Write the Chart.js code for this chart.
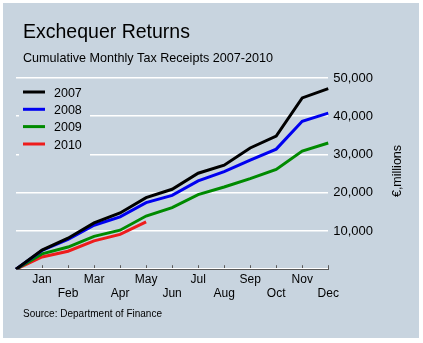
<!DOCTYPE html>
<html>
<head>
<meta charset="utf-8">
<script src="https://cdn.jsdelivr.net/npm/chart.js@4.4.1/dist/chart.umd.min.js"></script>
<style>
  html, body { margin: 0; padding: 0; background: #fff; }
  #wrap { position: absolute; left: 3px; top: 3px; width: 416px; height: 335px; background: #c8d4df; }
</style>
</head>
<body>
<div id="wrap"><canvas id="taxChart" width="416" height="335"></canvas></div>
<script>
// month labels, first slot is the zero start point
var months = ['', 'Jan', 'Feb', 'Mar', 'Apr', 'May', 'Jun', 'Jul', 'Aug', 'Sep', 'Oct', 'Nov', 'Dec'];
var years = ['2007', '2008', '2009', '2010'];
var receipts2007 = [0, 5000, 8100, 12100, 14700, 18700, 20900, 25100, 27200, 31700, 34800, 44800, 47200];
var receipts2008 = [0, 4900, 7800, 11500, 13700, 17400, 19300, 23100, 25500, 28500, 31400, 38700, 40800];
var receipts2009 = [0, 4000, 5800, 8600, 10200, 13900, 16100, 19500, 21500, 23700, 26100, 30900, 33000];
var receipts2010 = [0, 3200, 4700, 7400, 9100, 12400, null, null, null, null, null, null, null];
var yTicks = [0, 10000, 20000, 30000, 40000, 50000];

var bg = '#c8d4df';
var font = "Arial, 'Liberation Sans', sans-serif";

// titles, source, legend box and the rotated axis title
var extras = {
  id: 'extras',
  beforeDatasetsDraw: function(chart) {
    var c = chart.ctx;
    c.save();
    c.fillStyle = bg;
    c.fillRect(16, 80, 71, 78);
    var ys = [89, 106.3, 123.6, 141];
    chart.data.datasets.forEach(function(ds, i) {
      c.strokeStyle = ds.borderColor;
      c.lineWidth = 3;
      c.beginPath();
      c.moveTo(20, ys[i]);
      c.lineTo(42, ys[i]);
      c.stroke();
      c.fillStyle = '#000';
      c.font = '12.5px ' + font;
      c.textBaseline = 'alphabetic';
      c.fillText(ds.label, 51, ys[i] + 4.5);
    });
    c.restore();
  },
  afterDraw: function(chart) {
    var c = chart.ctx;
    c.save();
    c.fillStyle = '#000';
    c.textBaseline = 'alphabetic';
    c.font = '19.5px ' + font;
    c.fillText('Exchequer Returns', 20, 35);
    c.font = '12.6px ' + font;
    c.fillText('Cumulative Monthly Tax Receipts 2007-2010', 20, 59);
    c.font = '10px ' + font;
    c.fillText('Source: Department of Finance', 20, 314);
    c.translate(395, 168);
    c.rotate(-Math.PI / 2);
    c.font = '12.5px ' + font;
    c.textAlign = 'center';
    c.textBaseline = 'middle';
    c.fillText('\u20ac,millions', 0, 0);
    c.restore();
  }
};

var ctx = document.getElementById('taxChart').getContext('2d');
var chart = new Chart(ctx, {
  type: 'line',
  data: {
    labels: months,
    datasets: [
      { label: years[0], data: receipts2007, borderColor: '#000000' },
      { label: years[1], data: receipts2008, borderColor: '#0000f0' },
      { label: years[2], data: receipts2009, borderColor: '#008a00' },
      { label: years[3], data: receipts2010, borderColor: '#ee1c1c' }
    ]
  },
  options: {
    responsive: false,
    animation: false,
    layout: { padding: { left: 13, top: 75, right: 41, bottom: 30 } },
    elements: {
      line: { borderWidth: 3, tension: 0, fill: false },
      point: { radius: 0 }
    },
    plugins: {
      legend: { display: false },
      title: { display: false },
      tooltip: { enabled: false }
    },
    scales: {
      x: {
        offset: false,
        border: { display: true, color: '#5a5a5a', width: 1 },
        grid: {
          display: true,
          drawOnChartArea: false,
          drawTicks: true,
          tickLength: -4,
          tickColor: function(c) { return c.index === 0 ? 'rgba(0,0,0,0)' : '#5a5a5a'; }
        },
        ticks: {
          autoSkip: false,
          maxRotation: 0,
          padding: 7,
          color: '#000',
          font: { family: font, size: 12, lineHeight: 1.2 },
          callback: function(v, i) {
            var m = months[i];
            return i % 2 === 1 ? [m, ''] : ['', m];
          }
        }
      },
      y: {
        position: 'right',
        min: yTicks[0],
        max: yTicks[yTicks.length - 1],
        border: { display: false },
        grid: { color: '#ffffff', lineWidth: 1.5, drawTicks: false },
        afterBuildTicks: function(scale) {
          scale.ticks = yTicks.map(function(v) { return { value: v }; });
        },
        ticks: {
          padding: 5,
          color: '#000',
          font: { family: font, size: 13 },
          callback: function(v) { return v === 0 ? '' : v.toLocaleString('en-US'); }
        }
      }
    }
  },
  plugins: [extras]
});
</script>
</body>
</html>
